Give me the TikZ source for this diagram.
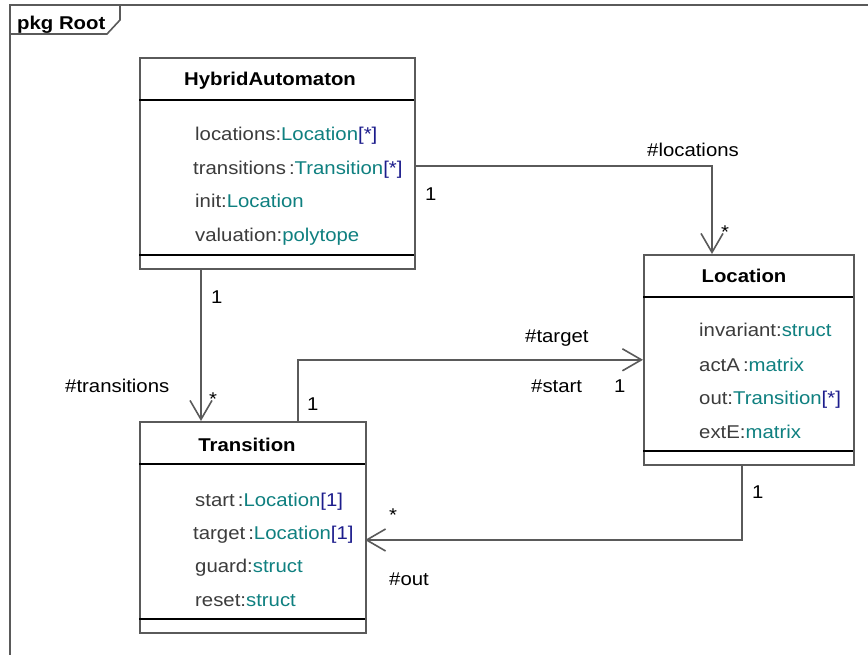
\documentclass[tikz,border=0pt]{standalone}
\usepackage{fontspec}
\setmainfont{Liberation Sans}[FakeStretch=1.1]
\usetikzlibrary{arrows.meta}

\definecolor{attrname}{HTML}{3C3C3C}
\definecolor{typeteal}{HTML}{0F8080}
\definecolor{multnavy}{HTML}{1C1C8C}
\definecolor{edgegray}{HTML}{5A5A5A}

\newcommand{\ty}[1]{\textcolor{typeteal}{#1}}
\newcommand{\mult}[1]{\textcolor{multnavy}{#1}}

\begin{document}
\begin{tikzpicture}[x=1pt,y=-1pt,
  classbox/.style={draw=edgegray, line width=1.6pt, fill=white, inner sep=0pt, anchor=north west},
  compline/.style={black, line width=1.3pt},
  attr/.style={anchor=base west, inner sep=0pt, font=\fontsize{18.5}{20}\selectfont, text=attrname},
  classtitle/.style={anchor=base, inner sep=0pt, font=\fontsize{18.5}{20}\selectfont\bfseries},
  lbl/.style={anchor=base west, inner sep=0pt, font=\fontsize{18.5}{20}\selectfont},
  assoc/.style={draw=edgegray, line width=1.6pt,
    -{Straight Barb[length=19pt,width=22pt,line width=1.6pt]}},
  frameline/.style={draw=edgegray, line width=1.6pt}]

\useasboundingbox (0,0) rectangle (868,655);

% package frame and tab
\draw[frameline] (868,5) -- (10,5) -- (10,655);
\draw[frameline] (120,5) -- (120,20) -- (107,34) -- (10,34);
\node[anchor=base west, inner sep=0pt, font=\fontsize{18.5}{20}\selectfont\bfseries] (pkg) at (17,30) {pkg Root};

% class HybridAutomaton
\node[classbox, minimum width=275pt, minimum height=211pt] (ha) at (139,57) {};
\draw[compline] (139,100) -- (414,100);
\draw[compline] (139,255) -- (414,255);
\node[classtitle] (haT) at (270,86) {HybridAutomaton};
\node[attr] (ha1) at (195,141) {locations:\ty{Location}\mult{[*]}};
\node[attr] (ha2) at (193,175) {transitions\,:\ty{Transition}\mult{[*]}};
\node[attr] (ha3) at (195,208) {init:\ty{Location}};
\node[attr] (ha4) at (195,242) {valuation:\ty{polytope}};

% class Location
\node[classbox, minimum width=210pt, minimum height=210pt] (lo) at (643,254) {};
\draw[compline] (643,297) -- (853,297);
\draw[compline] (643,451) -- (853,451);
\node[classtitle] (loT) at (744,283) {Location};
\node[attr] (lo1) at (699,337) {invariant:\ty{struct}};
\node[attr] (lo2) at (699,371) {actA\,:\ty{matrix}};
\node[attr] (lo3) at (699,404) {out:\ty{Transition}\mult{[*]}};
\node[attr] (lo4) at (699,438) {extE:\ty{matrix}};

% class Transition
\node[classbox, minimum width=226pt, minimum height=211pt] (tr) at (139,421) {};
\draw[compline] (139,464) -- (365,464);
\draw[compline] (139,619) -- (365,619);
\node[classtitle] (trT) at (247,451) {Transition};
\node[attr] (tr1) at (195,506) {start\,:\ty{Location}\mult{[1]}};
\node[attr] (tr2) at (193,539) {target\,:\ty{Location}\mult{[1]}};
\node[attr] (tr3) at (195,572) {guard:\ty{struct}};
\node[attr] (tr4) at (195,606) {reset:\ty{struct}};

% association end points
\coordinate (haOut) at (414,166);
\coordinate (loIn)  at (712,254);
\coordinate (trIn)  at (201,421);
\coordinate (trOut) at (298,421);
\coordinate (loOut) at (742,464);
\coordinate (trBack) at (365,540);

% associations
\draw[assoc] (haOut) -| (loIn);
\draw[assoc] (ha.south -| trIn) -- (trIn);
\draw[assoc] (trOut) |- (lo.west);
\draw[assoc] (loOut) |- (trBack);

% association labels
\node[lbl] (l1a) at (647,157) {\#locations};
\node[lbl] (l1b) at (425,201) {1};
\node[lbl] (l1c) at (721,239) {*};

\node[lbl] (l2a) at (211,303) {1};
\node[lbl] (l2b) at (65,392) {\#transitions};
\node[lbl] (l2c) at (209,405) {*};

\node[lbl] (l3a) at (525,342) {\#target};
\node[lbl] (l3b) at (531,392) {\#start};
\node[lbl] (l3c) at (614,392) {1};
\node[lbl] (l3d) at (307,410) {1};

\node[lbl] (l4a) at (752,498) {1};
\node[lbl] (l4b) at (389,521) {*};
\node[lbl] (l4c) at (389,585) {\#out};
\end{tikzpicture}
\end{document}
